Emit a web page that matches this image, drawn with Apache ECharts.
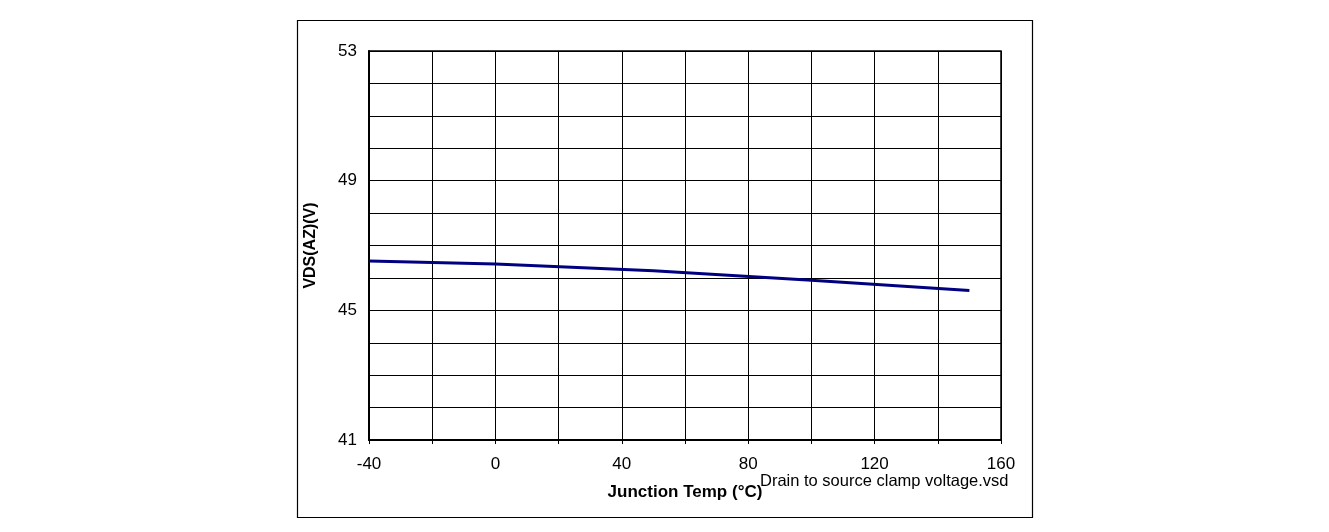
<!DOCTYPE html>
<html><head><meta charset="utf-8">
<script src="https://cdn.jsdelivr.net/npm/echarts@6/dist/echarts.min.js"></script>
<style>html,body{margin:0;padding:0;background:#fff}#c{width:1329px;height:532px}</style>
</head><body><div id="c"></div>
<script>
const temps = [-40, 0, 50, 100, 150];
const vds = [46.52, 46.43, 46.22, 45.93, 45.61];
const yTickLabels = [41, 45, 49, 53];
const xTickLabels = [-40, 0, 40, 80, 120, 160];
const yTitle = 'VDS(AZ)(V)';
const xTitle = 'Junction Temp (°C)';
const fileNote = 'Drain to source clamp voltage.vsd';

const chart = echarts.init(document.getElementById('c'));
const font = '"Liberation Sans", Arial, sans-serif';
chart.setOption({
  animation: false,
  backgroundColor: '#fff',
  grid: {left: 369, top: 51, right: 328, bottom: 92, show: true, borderColor: '#000', borderWidth: 1.5},
  xAxis: {
    type: 'value', min: -40, max: 160, interval: 20,
    name: xTitle, nameLocation: 'middle', nameGap: 44,
    nameTextStyle: {color: '#000', fontFamily: font, fontSize: 17, fontWeight: 'bold'},
    axisLine: {show: true, onZero: false, lineStyle: {color: '#000', width: 2}},
    axisTick: {show: true, length: 4, lineStyle: {color: '#000'}},
    splitLine: {show: true, lineStyle: {color: '#000', width: 1}},
    axisLabel: {color: '#000', fontFamily: font, fontSize: 17, margin: 16,
      formatter: v => xTickLabels.includes(v) ? String(v) : ''}
  },
  yAxis: {
    type: 'value', min: 41, max: 53, interval: 1,
    name: yTitle, nameLocation: 'middle', nameGap: 50,
    nameTextStyle: {color: '#000', fontFamily: font, fontSize: 16, fontWeight: 'bold'},
    axisLine: {show: true, onZero: false, lineStyle: {color: '#000', width: 2}},
    axisTick: {show: false},
    splitLine: {show: true, lineStyle: {color: '#000', width: 1}},
    axisLabel: {color: '#000', fontFamily: font, fontSize: 17, margin: 12,
      formatter: v => yTickLabels.includes(v) ? String(v) : ''}
  },
  graphic: [
    {type: 'rect', shape: {x: 297.5, y: 20.5, width: 735, height: 497}, style: {fill: 'none', stroke: '#000', lineWidth: 1.2}, z: -1},
    {type: 'text', left: 760, top: 473, style: {text: fileNote, font: '16.5px ' + font, fill: '#000'}}
  ],
  series: [{
    type: 'line', data: temps.map((t, i) => [t, vds[i]]),
    showSymbol: false, lineStyle: {color: '#000080', width: 3}
  }]
});
</script></body></html>
